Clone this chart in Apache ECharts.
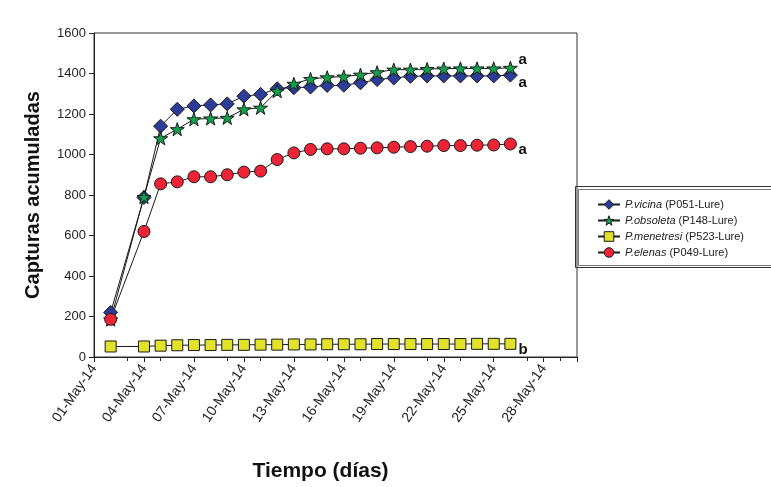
<!DOCTYPE html>
<html>
<head>
<meta charset="utf-8">
<script src="https://cdn.jsdelivr.net/npm/echarts@6/dist/echarts.min.js"></script>
<style>
html,body{margin:0;padding:0;background:#fff;}
#chart{width:771px;height:487px;}
</style>
</head>
<body>
<div id="chart"></div>
<script>
// ---- data ----
var dates = ['02-May-14','04-May-14','05-May-14','06-May-14','07-May-14','08-May-14','09-May-14','10-May-14','11-May-14','12-May-14','13-May-14','14-May-14','15-May-14','16-May-14','17-May-14','18-May-14','19-May-14','20-May-14','21-May-14','22-May-14','23-May-14','24-May-14','25-May-14','26-May-14'];
var vicina    = [220, 788, 1140, 1223, 1240, 1245, 1250, 1288, 1297, 1325, 1330, 1333, 1341, 1342, 1354, 1370, 1378, 1386, 1388, 1388, 1388, 1388, 1388, 1392];
var obsoleta  = [185, 790, 1080, 1125, 1174, 1178, 1181, 1223, 1231, 1313, 1349, 1373, 1381, 1385, 1394, 1406, 1419, 1419, 1422, 1424, 1425, 1425, 1425, 1428];
var menetresi = [52, 52, 56, 58, 59, 59, 60, 60, 61, 61, 62, 62, 63, 63, 63, 64, 64, 64, 64, 64, 64, 65, 65, 65];
var elenas    = [186, 620, 855, 865, 890, 890, 900, 913, 918, 975, 1008, 1025, 1028, 1028, 1031, 1033, 1036, 1039, 1041, 1044, 1044, 1046, 1047, 1052];
var seriesNames = ['P.vicina (P051-Lure)', 'P.obsoleta (P148-Lure)', 'P.menetresi (P523-Lure)', 'P.elenas (P049-Lure)'];
var groupLetters = ['a', 'a', 'b', 'a'];
var yTicks = [0, 200, 400, 600, 800, 1000, 1200, 1400, 1600];
var xTickMonth = '-May-14';

function pad(n){ return (n < 10 ? '0' : '') + n; }
function toPairs(vals){
  return dates.map(function(d, i){ return [parseInt(d, 10) - 1, vals[i]]; });
}

var starPath = 'path://M50,0 L61.8,35.3 L98.5,35.3 L68.8,57.1 L79.4,91.5 L50,70.3 L20.6,91.5 L31.2,57.1 L1.5,35.3 L38.2,35.3 Z';
var FONT = '"Liberation Sans", Arial, sans-serif';
var colors = ['#2D3C99', '#12A14A', '#E2E22B', '#EE2436'];
var symbols = ['diamond', starPath, 'rect', 'circle'];
var sizes = [14, 14, 11, 12];

var lineStyle = { color: '#1a1a1a', width: 1 };
function mkSeries(idx, vals, lblOffset){
  return {
    name: seriesNames[idx],
    type: 'line',
    data: toPairs(vals),
    symbol: symbols[idx],
    symbolSize: sizes[idx],
    symbolKeepAspect: true,
    showAllSymbol: true,
    lineStyle: lineStyle,
    itemStyle: { color: colors[idx], borderColor: '#1a1a1a', borderWidth: 1 },
    emphasis: { disabled: true },
    animation: false,
    endLabel: {
      show: true,
      formatter: groupLetters[idx],
      fontFamily: FONT,
      fontWeight: 'bold',
      fontSize: 15,
      color: '#111',
      offset: lblOffset
    }
  };
}

var chart = echarts.init(document.getElementById('chart'), null, { renderer: 'canvas' });
chart.setOption({
  backgroundColor: '#fff',
  animation: false,
  grid: { left: 94, top: 33, right: 194, bottom: 127, show: true, borderColor: '#333', borderWidth: 1, backgroundColor: 'transparent' },
  xAxis: [{
    type: 'value', min: 0, max: 29, interval: 3,
    axisLine: { show: true, lineStyle: { color: '#222' } },
    axisTick: { show: true, length: 5, lineStyle: { color: '#222' } },
    splitLine: { show: false },
    axisLabel: {
      rotate: 55, margin: 9, fontFamily: FONT, fontSize: 14, color: '#222',
      formatter: function(v){ return (v <= 27) ? pad(v + 1) + xTickMonth : ''; }
    },
    name: 'Tiempo (días)', nameLocation: 'middle', nameGap: 104,
    nameTextStyle: { fontFamily: FONT, fontWeight: 'bold', fontSize: 21, color: '#111', padding: [0, 30, 0, 0] }
  }, {
    type: 'value', min: 0, max: 29, interval: 2, position: 'bottom',
    axisLine: { show: false },
    axisTick: { show: true, length: 4, lineStyle: { color: '#222' } },
    axisLabel: { show: false },
    splitLine: { show: false }
  }],
  yAxis: {
    type: 'value', min: yTicks[0], max: yTicks[yTicks.length - 1], interval: 200,
    axisLine: { show: true, lineStyle: { color: '#222' } },
    axisTick: { show: true, length: 5, lineStyle: { color: '#222' } },
    splitLine: { show: false },
    axisLabel: { fontFamily: FONT, fontSize: 13, color: '#222', margin: 8, formatter: function(v){ return String(v); } },
    name: 'Capturas acumuladas', nameLocation: 'middle', nameGap: 51,
    nameTextStyle: { fontFamily: FONT, fontWeight: 'bold', fontSize: 20, color: '#111' }
  },
  legend: {
    data: seriesNames.map(function(n, i){
      return { name: n, itemStyle: { color: colors[i], borderColor: '#1a1a1a', borderWidth: 1 } };
    }),
    orient: 'vertical',
    left: 597, top: 199,
    itemWidth: 22, itemHeight: 12, itemGap: 5,
    padding: 0,
    selectedMode: false,
    textStyle: {
      fontFamily: FONT, fontSize: 11, color: '#222',
      rich: { i: { fontStyle: 'italic', fontFamily: FONT, fontSize: 11, color: '#222' } }
    },
    formatter: function(name){
      var k = name.indexOf(' ');
      return '{i|' + name.slice(0, k) + '}' + name.slice(k);
    }
  },
  graphic: [
    { type: 'rect', shape: { x: 575.5, y: 186.5, width: 200, height: 81 }, style: { fill: 'none', stroke: '#333', lineWidth: 1 }, z: 100 },
    { type: 'rect', shape: { x: 578.5, y: 189.5, width: 200, height: 76 }, style: { fill: 'none', stroke: '#777', lineWidth: 1 }, z: 100 }
  ],
  series: [
    mkSeries(0, vicina, [0, 8]),
    mkSeries(1, obsoleta, [0, -8]),
    mkSeries(2, menetresi, [0, 6]),
    mkSeries(3, elenas, [0, 6])
  ]
});
</script>
</body>
</html>
